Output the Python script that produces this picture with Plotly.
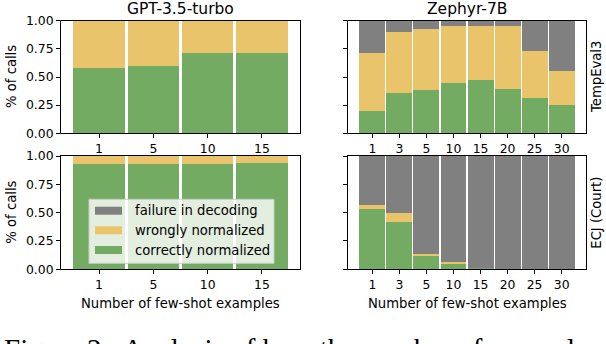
import plotly.graph_objects as go
from plotly.subplots import make_subplots

# few-shot counts per model
gpt_shots = ["1", "5", "10", "15"]
zephyr_shots = ["1", "3", "5", "10", "15", "20", "25", "30"]

# TempEval3 (share of calls)
gpt_tempeval_correct = [0.58, 0.60, 0.72, 0.72]
gpt_tempeval_wrong = [0.42, 0.40, 0.28, 0.28]
gpt_tempeval_failure = [0.0, 0.0, 0.0, 0.0]
zephyr_tempeval_correct = [0.20, 0.36, 0.385, 0.45, 0.475, 0.40, 0.32, 0.25]
zephyr_tempeval_wrong = [0.52, 0.54, 0.54, 0.51, 0.485, 0.555, 0.41, 0.31]
zephyr_tempeval_failure = [0.28, 0.10, 0.075, 0.04, 0.04, 0.045, 0.27, 0.44]

# ECJ (Court)
gpt_ecj_correct = [0.93, 0.93, 0.93, 0.94]
gpt_ecj_wrong = [0.07, 0.07, 0.07, 0.06]
gpt_ecj_failure = [0.0, 0.0, 0.0, 0.0]
zephyr_ecj_correct = [0.53, 0.42, 0.12, 0.045, 0.015, 0.0, 0.0, 0.0]
zephyr_ecj_wrong = [0.04, 0.08, 0.015, 0.02, 0.0, 0.0, 0.0, 0.0]
zephyr_ecj_failure = [0.43, 0.50, 0.865, 0.935, 0.985, 1.0, 1.0, 1.0]

series_names = ["correctly normalized", "wrongly normalized", "failure in decoding"]
series_colors = ["#72AB61", "#E9C46A", "#808080"]

W, H = 606, 344
FONT = "DejaVu Sans"


def px_x(p):
    return p / W


def px_y(p):
    return 1 - p / H


panels = [
    (1, 1, gpt_shots, [gpt_tempeval_correct, gpt_tempeval_wrong, gpt_tempeval_failure], 0.95),
    (1, 2, zephyr_shots, [zephyr_tempeval_correct, zephyr_tempeval_wrong, zephyr_tempeval_failure], 0.96),
    (2, 1, gpt_shots, [gpt_ecj_correct, gpt_ecj_wrong, gpt_ecj_failure], 0.95),
    (2, 2, zephyr_shots, [zephyr_ecj_correct, zephyr_ecj_wrong, zephyr_ecj_failure], 0.96),
]

fig = make_subplots(rows=2, cols=2)

for row, col, shots, values, bar_width in panels:
    for name, color, vals in zip(series_names, series_colors, values):
        fig.add_trace(go.Bar(
            x=list(range(len(shots))),
            y=vals,
            name=name,
            marker=dict(color=color, line=dict(width=0)),
            width=bar_width,
            showlegend=False,
        ), row=row, col=col)

x_domains = {1: [px_x(61), px_x(300)], 2: [px_x(348), px_x(586)]}
y_domains = {1: [px_y(133.3), px_y(20.7)], 2: [px_y(269.3), px_y(156)]}

axis_style = dict(
    showline=True, linecolor="black", linewidth=1, mirror=True,
    ticks="outside", ticklen=4, tickwidth=1, tickcolor="black",
    showgrid=False, zeroline=False, automargin=False,
    tickfont=dict(family=FONT, size=12.4, color="black"),
)

for row, col, shots, values, bar_width in panels:
    fig.update_xaxes(
        domain=x_domains[col],
        range=[-0.7, len(shots) - 0.3] if len(shots) == 4 else [-0.9, len(shots) - 0.1],
        tickmode="array", tickvals=list(range(len(shots))), ticktext=shots,
        row=row, col=col, **axis_style,
    )
    fig.update_yaxes(
        domain=y_domains[row],
        range=[0, 1],
        tickmode="array", tickvals=[0, 0.25, 0.5, 0.75, 1.0],
        ticktext=["0.00", "0.25", "0.50", "0.75", "1.00"] if col == 1 else [""] * 5,
        row=row, col=col, **axis_style,
    )

annotations = []


def text(x, y, s, size, angle=0, family=FONT, xanchor="center", yanchor="middle"):
    annotations.append(dict(
        x=px_x(x), y=px_y(y), xref="paper", yref="paper", text=s, showarrow=False,
        textangle=angle, xanchor=xanchor, yanchor=yanchor,
        font=dict(family=family, size=size, color="black"),
    ))


text(180.5, 9, "GPT-3.5-turbo", 15.5)
text(467, 9, "Zephyr-7B", 15.5)
text(12, 77, "% of calls", 13.2, angle=-90)
text(12, 212.7, "% of calls", 13.2, angle=-90)
text(597, 77, "TempEval3", 13.2, angle=-90)
text(597, 212.7, "ECJ (Court)", 13.2, angle=-90)
text(180.5, 303, "Number of few-shot examples", 13.2)
text(467, 303, "Number of few-shot examples", 13.2)
text(2, 331, "Figure 2:  Analysis of how the number of examples", 29,
     family="Liberation Serif", xanchor="left", yanchor="top")

# legend drawn by hand in the lower-left panel
shapes = [dict(
    type="rect", xref="paper", yref="paper",
    x0=px_x(89), x1=px_x(274), y0=px_y(263.3), y1=px_y(199.3),
    fillcolor="rgba(255,255,255,0.8)", line=dict(color="#cccccc", width=1),
)]
row_y = [250, 230.3, 210.7]
for name, color, y in zip(series_names, series_colors, row_y):
    shapes.append(dict(
        type="rect", xref="paper", yref="paper",
        x0=px_x(95), x1=px_x(122), y0=px_y(y + 4), y1=px_y(y - 4),
        fillcolor=color, line=dict(width=0),
    ))
    text(132.5, y, name, 13.2, xanchor="left")

fig.update_layout(
    width=W, height=H,
    margin=dict(l=0, r=0, t=0, b=0, pad=0),
    barmode="stack", bargap=0,
    plot_bgcolor="white", paper_bgcolor="white",
    annotations=annotations, shapes=shapes,
    showlegend=False,
)

# the page's default body margin would push the figure 8px off
fig.write_html("out.html", config={"displayModeBar": False},
               post_script="document.body.style.margin = '0';")
